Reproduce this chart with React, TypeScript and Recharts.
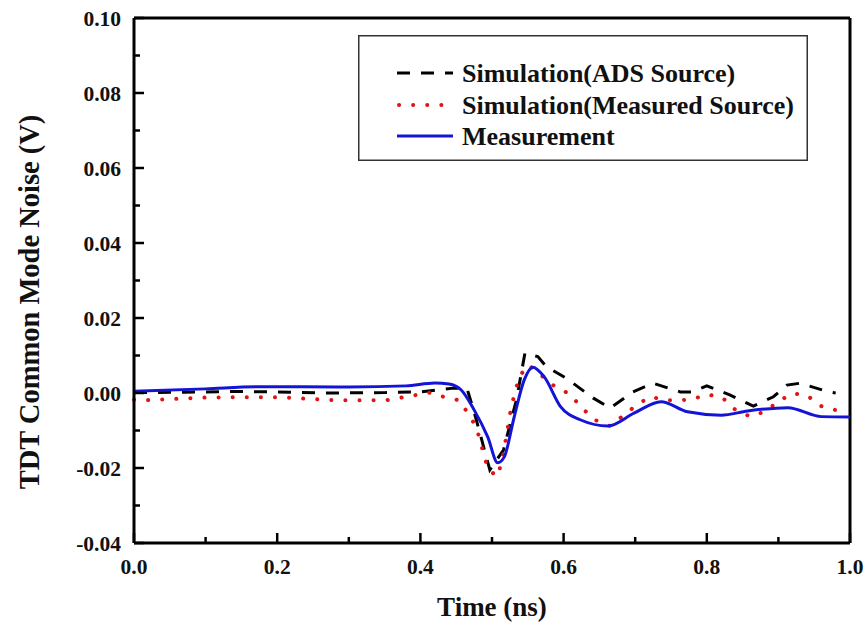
import React from 'react';
import { LineChart, Line, XAxis, YAxis, ReferenceLine, Legend } from 'recharts';

// ---- data ----
const adsTime = [0, 0.07, 0.14, 0.2, 0.27, 0.35, 0.4, 0.446, 0.465, 0.477, 0.497, 0.516, 0.534, 0.546, 0.564, 0.576, 0.604, 0.641, 0.665, 0.697, 0.725, 0.763, 0.78, 0.8, 0.832, 0.865, 0.893, 0.912, 0.93, 0.97, 0.98];
const adsValue = [0.0001, 0.0002, 0.0004, 0.0003, 0.0, 0.0001, 0.0003, 0.0013, 0.0013, -0.0064, -0.0205, -0.0152, -0.0019, 0.0106, 0.0097, 0.007, 0.0039, -0.0013, -0.004, 0.0003, 0.0026, 0.0003, 0.0003, 0.0019, -0.0005, -0.0035, -0.001, 0.0021, 0.0026, 0.0003, 0.0];

const measSrcTime = [0, 0.02, 0.1, 0.2, 0.278, 0.353, 0.413, 0.432, 0.455, 0.478, 0.494, 0.507, 0.514, 0.527, 0.538, 0.551, 0.588, 0.609, 0.625, 0.644, 0.665, 0.702, 0.721, 0.742, 0.76, 0.781, 0.8, 0.821, 0.84, 0.861, 0.88, 0.9, 0.919, 0.94, 0.958, 0.979, 0.99];
const measSrcValue = [-0.0018, -0.0019, -0.0012, -0.0011, -0.0019, -0.0019, 0.0001, -0.001, -0.002, -0.009, -0.0201, -0.0223, -0.0183, -0.0036, 0.0044, 0.0075, 0.0017, -0.0003, -0.0039, -0.0072, -0.0088, -0.0032, -0.001, -0.0019, -0.002, -0.0016, -0.0004, -0.0011, -0.0045, -0.0063, -0.005, -0.0023, -0.0001, -0.0006, -0.0034, -0.0045, -0.0045];

const measTime = [0, 0.1, 0.17, 0.3, 0.38, 0.42, 0.44, 0.457, 0.475, 0.494, 0.508, 0.517, 0.531, 0.545, 0.557, 0.573, 0.596, 0.624, 0.662, 0.699, 0.736, 0.773, 0.82, 0.857, 0.913, 0.96, 1.0];
const measValue = [0.0005, 0.0011, 0.0017, 0.0016, 0.0019, 0.0027, 0.0024, 0.0008, -0.0045, -0.0117, -0.0186, -0.0171, -0.0064, 0.0035, 0.0069, 0.0043, -0.0037, -0.0072, -0.0088, -0.0053, -0.0023, -0.005, -0.0059, -0.0048, -0.0039, -0.0063, -0.0064];

const xTicks = [0, 0.1, 0.2, 0.3, 0.4, 0.5, 0.6, 0.7, 0.8, 0.9, 1.0];
const xLabelTicks = ['0.0', '0.2', '0.4', '0.6', '0.8', '1.0'];
const yTicks = [-0.04, -0.03, -0.02, -0.01, 0, 0.01, 0.02, 0.03, 0.04, 0.05, 0.06, 0.07, 0.08, 0.09, 0.1];
const yLabelTicks = ['-0.04', '-0.02', '0.00', '0.02', '0.04', '0.06', '0.08', '0.10'];

const seriesNames = ['Simulation(ADS Source)', 'Simulation(Measured Source)', 'Measurement'];
const xTitle = 'Time (ns)';
const yTitle = 'TDT Common Mode Noise (V)';

const adsData = adsTime.map((t, i) => ({ t, v: adsValue[i] }));
const measSrcData = measSrcTime.map((t, i) => ({ t, v: measSrcValue[i] }));
const measData = measTime.map((t, i) => ({ t, v: measValue[i] }));

const FONT = '"Liberation Serif", "Times New Roman", serif';
const BLUE = '#1414d6';
const RED = '#e01414';

const XTick = (props: any) => {
  const { x, y, payload } = props;
  const label = payload.value.toFixed(1);
  const major = xLabelTicks.includes(label);
  return (
    <g>
      <line x1={x} x2={x} y1={y} y2={y - (major ? 10 : 6)} stroke="#000" strokeWidth={2.5} />
      {major && (
        <text x={x} y={y + 23} dy="0.35em" textAnchor="middle" fontFamily={FONT} fontWeight="bold" fontSize={21.5} fill="#111">
          {label}
        </text>
      )}
    </g>
  );
};

const YTick = (props: any) => {
  const { x, y, payload } = props;
  const label = payload.value.toFixed(2).replace('-0.00', '0.00');
  const major = yLabelTicks.includes(label);
  return (
    <g>
      <line x1={x} x2={x + (major ? 10 : 6)} y1={y} y2={y} stroke="#000" strokeWidth={2.5} />
      {major && (
        <text x={x - 13} y={y} dy="0.35em" textAnchor="end" fontFamily={FONT} fontWeight="bold" fontSize={21.5} fill="#111">
          {label}
        </text>
      )}
    </g>
  );
};

const XTitle = () => (
  <text x={492} y={607} dy="0.35em" textAnchor="middle" fontFamily={FONT} fontWeight="bold" fontSize={27} fill="#111">
    {xTitle}
  </text>
);

const YTitle = () => (
  <text x={29} y={302} dy="0.35em" textAnchor="middle" transform="rotate(-90 29 302)" fontFamily={FONT} fontWeight="bold" fontSize={28.5} fill="#111">
    {yTitle}
  </text>
);

const LegendBox = () => {
  const rows = [
    { y: 38, stroke: '#000', dash: '13 11', cap: 'butt' as const, w: 3 },
    { y: 70, stroke: RED, dash: '0.1 14', cap: 'round' as const, w: 4 },
    { y: 101, stroke: BLUE, dash: undefined, cap: 'butt' as const, w: 3 },
  ];
  return (
    <svg width={450} height={126} style={{ display: 'block' }}>
      <rect x={0.75} y={0.75} width={448.5} height={124.5} fill="#fff" stroke="#333" strokeWidth={1.5} />
      {rows.map((r, i) => (
        <g key={i}>
          <line x1={i === 1 ? 41 : 39} x2={i === 1 ? 90 : 95} y1={r.y} y2={r.y} stroke={r.stroke} strokeWidth={r.w} strokeDasharray={r.dash} strokeLinecap={r.cap} />
          <text x={104} y={r.y} dy="0.35em" fontFamily={FONT} fontWeight="bold" fontSize={26} fill="#111">
            {seriesNames[i]}
          </text>
        </g>
      ))}
    </svg>
  );
};

export default function App() {
  return (
    <div style={{ position: 'absolute', left: 0, top: 0, width: 866, height: 626, background: '#fff' }}>
      <LineChart width={866} height={626} margin={{ top: 18, right: 16, left: 0, bottom: 0 }}>
        <XAxis
          dataKey="t"
          type="number"
          domain={[0, 1]}
          ticks={xTicks}
          allowDuplicatedCategory={false}
          height={83}
          tickSize={0}
          tickMargin={0}
          tickLine={false}
          axisLine={{ stroke: '#000', strokeWidth: 3 }}
          tick={<XTick />}
          interval={0}
          label={<XTitle />}
        />
        <YAxis
          type="number"
          domain={[-0.04, 0.1]}
          ticks={yTicks}
          width={134}
          tickSize={0}
          tickMargin={0}
          tickLine={false}
          axisLine={{ stroke: '#000', strokeWidth: 3 }}
          tick={<YTick />}
          interval={0}
          label={<YTitle />}
        />
        <ReferenceLine y={0.1} stroke="#000" strokeWidth={3} />
        <ReferenceLine x={1} stroke="#000" strokeWidth={3} />
        <Line data={adsData} dataKey="v" name={seriesNames[0]} type="linear" stroke="#000" strokeWidth={3} strokeDasharray="13 11" dot={false} isAnimationActive={false} />
        <Line data={measSrcData} dataKey="v" name={seriesNames[1]} type="linear" stroke={RED} strokeWidth={4} strokeDasharray="0.1 14" strokeLinecap="round" dot={false} isAnimationActive={false} />
        <Line data={measData} dataKey="v" name={seriesNames[2]} type="monotone" stroke={BLUE} strokeWidth={3} dot={false} isAnimationActive={false} />
        <Legend
          layout="vertical"
          align="center"
          verticalAlign="middle"
          content={<LegendBox />}
          wrapperStyle={{ position: 'absolute', left: 358, top: 35, width: 450, height: 126 }}
        />
      </LineChart>
    </div>
  );
}
